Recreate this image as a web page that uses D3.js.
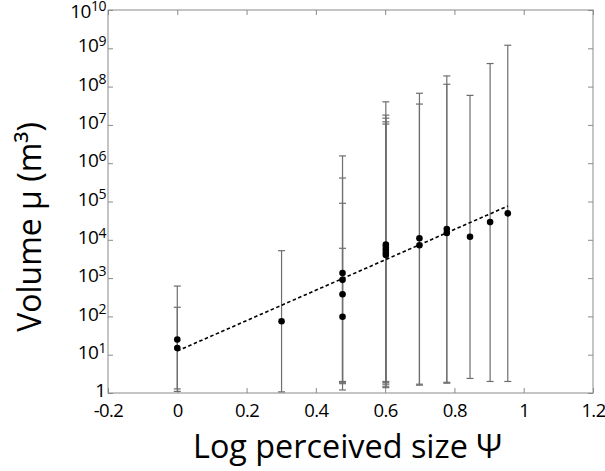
<!DOCTYPE html>
<html>
<head>
<meta charset="utf-8">
<script src="https://cdn.jsdelivr.net/npm/d3@7"></script>
<style>
  body { margin: 0; background: #fff; }
  text { font-family: "Open Sans", "DejaVu Sans", sans-serif; fill: #000; }
</style>
</head>
<body>
<div class="graph"></div>
<script>
// data
const xVals = [0, 0, 0.301, 0.477, 0.477, 0.477, 0.477, 0.602, 0.602, 0.602, 0.602, 0.602,
  0.699, 0.699, 0.778, 0.778, 0.845, 0.903, 0.954];
const yVals = [25, 15, 75, 1350, 900, 380, 98, 7500, 6500, 5500, 4600, 4000,
  11000, 7200, 19000, 15000, 12000, 29000, 49000];
const upperVals = [620, 173, 5200, 1.55e6, 4.1e5, 9e4, 6000, 4e7, 1.8e7, 1.5e7, 1.2e7, 1.05e7,
  6.7e7, 3.5e7, 1.9e8, 1.15e8, 5.9e7, 4e8, 1.2e9];
const lowerVals = [1.28, 1.1, 1.07, 2.0, 1.9, 1.75, 1.2, 2.0, 1.86, 1.7, 1.5, 1.38,
  1.7, 1.6, 1.9, 1.8, 2.4, 2.0, 2.0];
const fitX = [0, 0.954];
const fitY = [12.5, 76000];
const xTicks = [-0.2, 0, 0.2, 0.4, 0.6, 0.8, 1, 1.2];
const xTickLabels = ["-0.2", "0", "0.2", "0.4", "0.6", "0.8", "1", "1.2"];
const yExps = [0, 1, 2, 3, 4, 5, 6, 7, 8, 9, 10];

function main() {
  //setting
  const width = 605;
  const height = 471;
  const left = 108, right = 593, top = 10, bottom = 393;
  const axisColor = "#8a8a8a";
  const barColor = "#6e6e6e";

  const xScale = d3.scaleLinear().domain([-0.2, 1.2]).range([left, right]);
  const yScale = d3.scaleLog().domain([1, 1e10]).range([bottom, top]);

  const svg = d3.select(".graph").append("svg")
    .attr("width", width)
    .attr("height", height);

  //frame
  svg.append("rect")
    .attr("x", left).attr("y", top)
    .attr("width", right - left).attr("height", bottom - top)
    .attr("fill", "none").attr("stroke", axisColor).attr("stroke-width", 1);

  //axes, ticks pointing inward
  const xAxis = d3.axisBottom(xScale).tickValues(xTicks).tickSize(-5).tickPadding(6)
    .tickFormat((d, i) => xTickLabels[i]);
  const gx = svg.append("g")
    .attr("transform", "translate(0," + bottom + ")")
    .call(xAxis);
  gx.select(".domain").remove();
  gx.selectAll(".tick line").attr("stroke", axisColor);
  gx.selectAll(".tick text")
    .attr("font-size", 18.5).attr("font-family", null).attr("dy", "0.95em")
    .attr("letter-spacing", -0.6);

  svg.append("g")
    .attr("transform", "translate(0," + top + ")")
    .call(d3.axisTop(xScale).tickValues(xTicks).tickSize(-5).tickFormat(""))
    .call(g => g.select(".domain").remove())
    .selectAll(".tick line").attr("stroke", axisColor);

  const yTicks = yExps.map(e => Math.pow(10, e));
  const gy = svg.append("g")
    .attr("transform", "translate(" + left + ",0)")
    .call(d3.axisLeft(yScale).tickValues(yTicks).tickSize(-5).tickPadding(2).tickFormat(""));
  gy.select(".domain").remove();
  gy.selectAll(".tick line").attr("stroke", axisColor);
  gy.selectAll(".tick text")
    .attr("font-family", null)
    .attr("dy", d => d === 1e10 ? "0.72em" : "0.36em")
    .each(function (d) {
      const t = d3.select(this);
      const e = Math.round(Math.log10(d));
      if (e === 0) {
        t.append("tspan").attr("font-size", 19).text("1");
      } else {
        t.append("tspan").attr("font-size", 19).attr("letter-spacing", -0.5).text("10");
        t.append("tspan").attr("font-size", 14).attr("dy", "-0.45em").attr("letter-spacing", -0.5).text(e);
      }
    });

  svg.append("g")
    .attr("transform", "translate(" + right + ",0)")
    .call(d3.axisRight(yScale).tickValues(yTicks).tickSize(-5).tickFormat(""))
    .call(g => g.select(".domain").remove())
    .selectAll(".tick line").attr("stroke", axisColor);

  //error bars
  const idx = d3.range(xVals.length);
  const bars = svg.append("g").attr("stroke", barColor).attr("stroke-width", 1.2);
  bars.selectAll(".vbar").data(idx).enter().append("line")
    .attr("x1", i => xScale(xVals[i])).attr("x2", i => xScale(xVals[i]))
    .attr("y1", i => yScale(lowerVals[i])).attr("y2", i => yScale(upperVals[i]));
  const cap = 3.5;
  bars.selectAll(".capU").data(idx).enter().append("line")
    .attr("x1", i => xScale(xVals[i]) - cap).attr("x2", i => xScale(xVals[i]) + cap)
    .attr("y1", i => yScale(upperVals[i])).attr("y2", i => yScale(upperVals[i]));
  bars.selectAll(".capL").data(idx).enter().append("line")
    .attr("x1", i => xScale(xVals[i]) - cap).attr("x2", i => xScale(xVals[i]) + cap)
    .attr("y1", i => yScale(lowerVals[i])).attr("y2", i => yScale(lowerVals[i]));

  //fit line
  const line = d3.line().x(d => xScale(d[0])).y(d => yScale(d[1]));
  svg.append("path")
    .datum(d3.zip(fitX, fitY))
    .attr("d", line)
    .attr("fill", "none")
    .attr("stroke", "#000")
    .attr("stroke-width", 1.6)
    .attr("stroke-dasharray", "3.5,2.5");

  //dots
  svg.selectAll("circle").data(idx).enter().append("circle")
    .attr("cx", i => xScale(xVals[i]))
    .attr("cy", i => yScale(yVals[i]))
    .attr("r", 3.3)
    .attr("fill", "#000");

  //titles
  svg.append("text")
    .attr("x", 347.5)
    .attr("y", 458)
    .attr("text-anchor", "middle")
    .attr("font-size", 32)
    .attr("textLength", 309)
    .attr("lengthAdjust", "spacingAndGlyphs")
    .text("Log perceived size Ψ");

  svg.append("text")
    .attr("transform", "translate(41," + 227 + ") rotate(-90)")
    .attr("text-anchor", "middle")
    .attr("font-size", 32)
    .text("Volume μ (m³)");
}

main();
</script>
</body>
</html>
